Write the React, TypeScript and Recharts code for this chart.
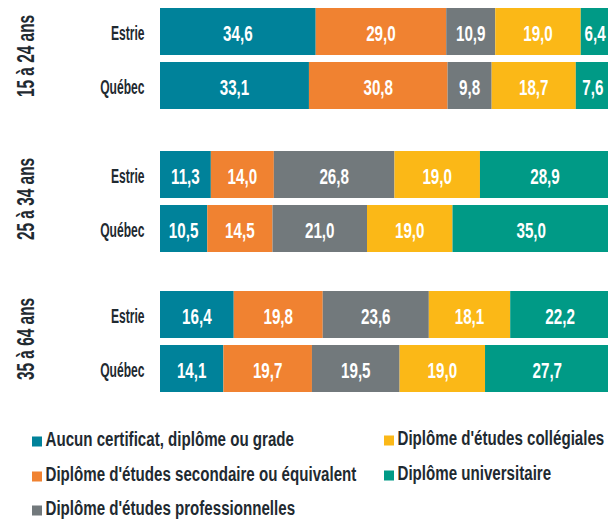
import { BarChart, Bar, XAxis, YAxis, LabelList } from "recharts";

const ageGroups = ["15 à 24 ans", "25 à 34 ans", "35 à 64 ans"];
const regions = ["Estrie", "Québec"];

// one value per row: Estrie / Québec for each age group, in order
const aucun = [34.6, 33.1, 11.3, 10.5, 16.4, 14.1];
const secondaire = [29.0, 30.8, 14.0, 14.5, 19.8, 19.7];
const professionnel = [10.9, 9.8, 26.8, 21.0, 23.6, 19.5];
const collegial = [19.0, 18.7, 19.0, 19.0, 18.1, 19.0];
const universitaire = [6.4, 7.6, 28.9, 35.0, 22.2, 27.7];

const series = [
  { key: "aucun", name: "Aucun certificat, diplôme ou grade", color: "#00829a", values: aucun },
  { key: "secondaire", name: "Diplôme d'études secondaire ou équivalent", color: "#f08231", values: secondaire },
  { key: "professionnel", name: "Diplôme d'études professionnelles", color: "#72797c", values: professionnel },
  { key: "collegial", name: "Diplôme d'études collégiales", color: "#fbb817", values: collegial },
  { key: "universitaire", name: "Diplôme universitaire", color: "#009a86", values: universitaire },
];

// no condensed font installed, so text is squeezed horizontally
const FONT = "'Liberation Sans', Arial, sans-serif";
const TEXT = "#1f2a31";

const groupTops = [4, 147, 287];

function RowTick(props: any) {
  const { x, y, payload } = props;
  return (
    <text transform={`translate(${x - 7.5},${y + 9}) scale(0.59,1)`} textAnchor="end" fill={TEXT}
      style={{ fontFamily: FONT, fontWeight: 700, fontSize: 20.5 }}>
      {payload.value}
    </text>
  );
}

function ValueLabel(props: any) {
  const { x, y, width, height, value } = props;
  const cx = x + width / 2;
  const cy = y + height / 2;
  return (
    <text transform={`translate(${cx},${cy + 9.5}) scale(0.69,1)`} textAnchor="middle" fill="#ffffff"
      style={{ fontFamily: FONT, fontWeight: 700, fontSize: 22 }}>
      {Number(value).toFixed(1).replace(".", ",")}
    </text>
  );
}

function GroupChart({ index }: { index: number }) {
  const data = regions.map((region, r) => {
    const row: Record<string, any> = { region };
    series.forEach((s) => (row[s.key] = s.values[index * 2 + r]));
    return row;
  });
  return (
    <div style={{ position: "absolute", left: 0, top: groupTops[index], width: 608, height: 108, overflow: "hidden" }}>
      <svg width={50} height={108} style={{ position: "absolute", left: 0, top: 0 }}>
        <text transform="translate(34,52) rotate(-90) scale(0.67,1)" textAnchor="middle" fill={TEXT}
          style={{ fontFamily: FONT, fontWeight: 700, fontSize: 23 }}>
          {ageGroups[index]}
        </text>
      </svg>
      <BarChart width={610} height={108} data={data} layout="vertical" margin={{ top: 0, right: 0, bottom: 0, left: 0 }}>
        <XAxis type="number" domain={[0, 100]} hide />
        <YAxis type="category" dataKey="region" width={160} axisLine={false} tickLine={false} tick={<RowTick />} />
        {series.map((s) => (
          <Bar key={s.key} dataKey={s.key} stackId="a" fill={s.color} barSize={47} isAnimationActive={false}>
            <LabelList dataKey={s.key} content={<ValueLabel />} />
          </Bar>
        ))}
      </BarChart>
    </div>
  );
}

function Legend() {
  const spots = [
    { x: 32, y: 446 },
    { x: 32, y: 481 },
    { x: 32, y: 515 },
    { x: 384, y: 445 },
    { x: 384, y: 480 },
  ];
  return (
    <svg width={608} height={110} style={{ position: "absolute", left: 0, top: 409 }}>
      {series.map((s, i) => {
        const p = spots[i];
        const by = p.y - 409;
        return (
          <g key={s.key}>
            <rect x={p.x} y={by - 9.5} width={10} height={10} fill={s.color} />
            <text transform={`translate(${p.x + 13.5},${by}) scale(0.72,1)`} fill={TEXT}
              style={{ fontFamily: FONT, fontWeight: 700, fontSize: 21 }}>
              {s.name}
            </text>
          </g>
        );
      })}
    </svg>
  );
}

export default function App() {
  return (
    <div style={{ position: "absolute", left: 0, top: 0, width: 608, height: 519, background: "#ffffff", overflow: "hidden" }}>
      {ageGroups.map((_, i) => (
        <GroupChart key={i} index={i} />
      ))}
      <Legend />
    </div>
  );
}
